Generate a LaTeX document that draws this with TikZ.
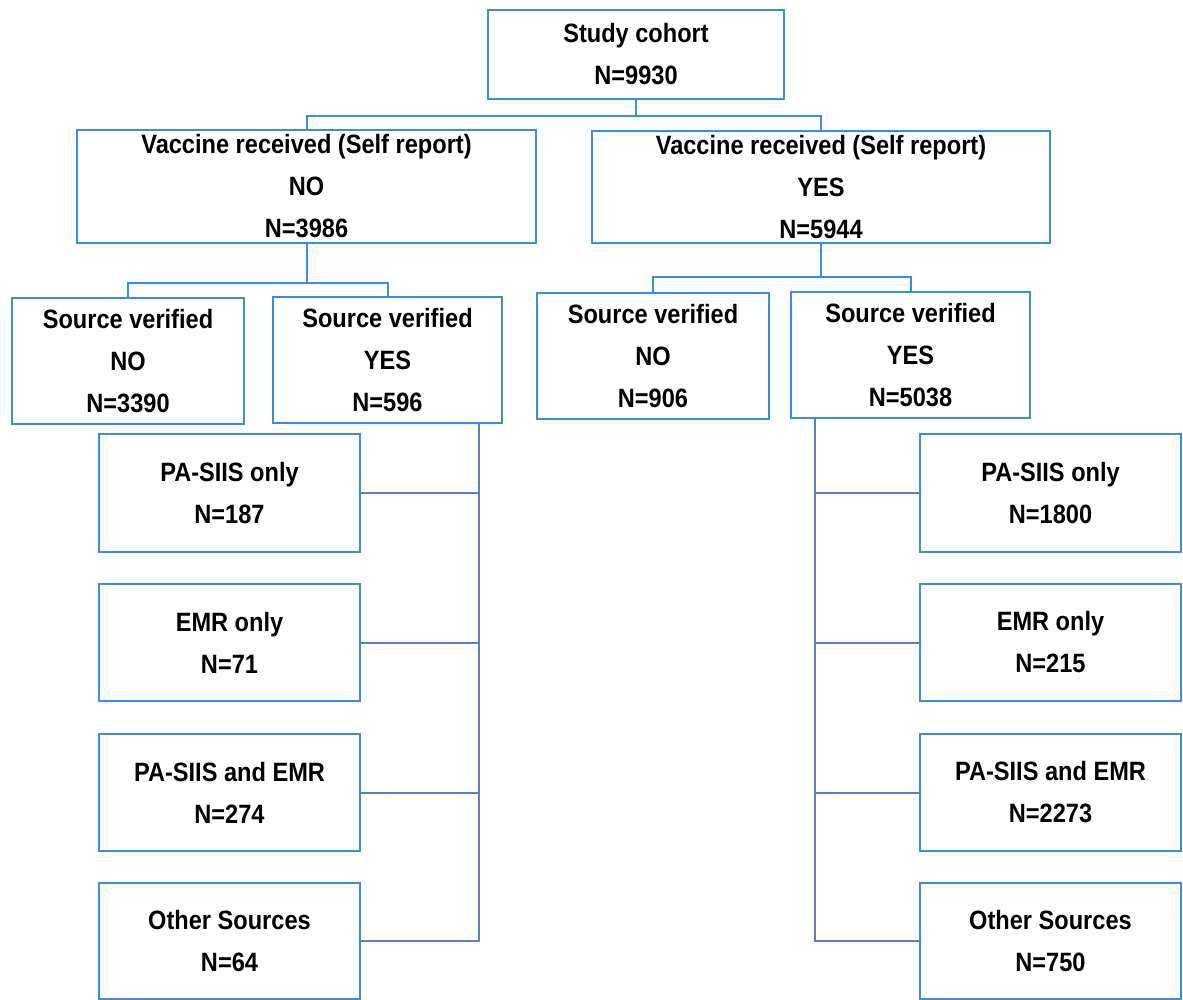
\documentclass[tikz,border=0pt]{standalone}
\usepackage{fontspec}
\setmainfont{Liberation Sans}[FakeStretch=0.89]
\usetikzlibrary{calc}
\definecolor{boxblue}{HTML}{3A8EDB}
\definecolor{linkblue}{HTML}{5B7FC6}
\tikzset{
  box/.style={draw=boxblue, line width=2.2pt, fill=white, rectangle, inner sep=0pt,
    align=center, font=\fontsize{26.5}{42}\selectfont\bfseries, text=black},
  topconn/.style={draw=boxblue, line width=2pt},
  conn/.style={draw=linkblue, line width=2pt},
}
\newcommand{\mybox}[6]{% name, x1, x2, y1, y2, text
  \node[box, minimum width={(#3-#2)*1pt}, minimum height={(#5-#4)*1pt}] (#1) at ({(#2+#3)/2},{(#4+#5)/2}) {#6};
}
\begin{document}
\begin{tikzpicture}[x=1pt, y=-1pt]
\useasboundingbox (0,0) rectangle (1183,1000);
\fill[white] (0,0) rectangle (1183,1000);

\mybox{coh}{488}{784}{10}{99}{Study cohort\\N=9930}
\mybox{vno}{77}{536}{130}{243}{Vaccine received (Self report)\\NO\\N=3986}
\mybox{vyes}{592}{1050}{131}{243}{Vaccine received (Self report)\\YES\\N=5944}
\mybox{snoA}{12}{244}{298}{424}{Source verified\\NO\\N=3390}
\mybox{syesA}{273}{502}{297}{423}{Source verified\\YES\\N=596}
\mybox{snoB}{537}{769}{293}{419}{Source verified\\NO\\N=906}
\mybox{syesB}{791}{1030}{292}{418}{Source verified\\YES\\N=5038}

\mybox{LA}{99}{360}{434}{552}{PA-SIIS only\\N=187}
\mybox{LB}{99}{360}{584}{701}{EMR only\\N=71}
\mybox{LC}{99}{360}{734}{851}{PA-SIIS and EMR\\N=274}
\mybox{LD}{99}{360}{883}{999}{Other Sources\\N=64}

\mybox{RA}{920}{1181}{434}{552}{PA-SIIS only\\N=1800}
\mybox{RB}{920}{1181}{584}{701}{EMR only\\N=215}
\mybox{RC}{920}{1181}{734}{851}{PA-SIIS and EMR\\N=2273}
\mybox{RD}{920}{1181}{883}{999}{Other Sources\\N=750}

% top-level connectors
\draw[topconn] (coh.south) -- ++(0,16) -| (vno.north);
\draw[topconn] (coh.south) -- ++(0,16) -| (vyes.north);
\draw[topconn] (vno.south) -- ++(0,39) -| (snoA.north);
\draw[topconn] (vno.south) -- ++(0,39) -| (syesA.north);
\draw[topconn] (vyes.south) -- ++(0,33) -| (snoB.north);
\draw[topconn] (vyes.south) -- ++(0,33) -| (syesB.north);

% left branch
\coordinate (spA) at (479,423);
\draw[conn] (spA) |- (LD.east);
\draw[conn] (LA.east) -- (LA.east -| spA);
\draw[conn] (LB.east) -- (LB.east -| spA);
\draw[conn] (LC.east) -- (LC.east -| spA);

% right branch
\coordinate (spB) at (815,418);
\draw[conn] (spB) |- (RD.west);
\draw[conn] (RA.west) -- (RA.west -| spB);
\draw[conn] (RB.west) -- (RB.west -| spB);
\draw[conn] (RC.west) -- (RC.west -| spB);
\end{tikzpicture}
\end{document}
